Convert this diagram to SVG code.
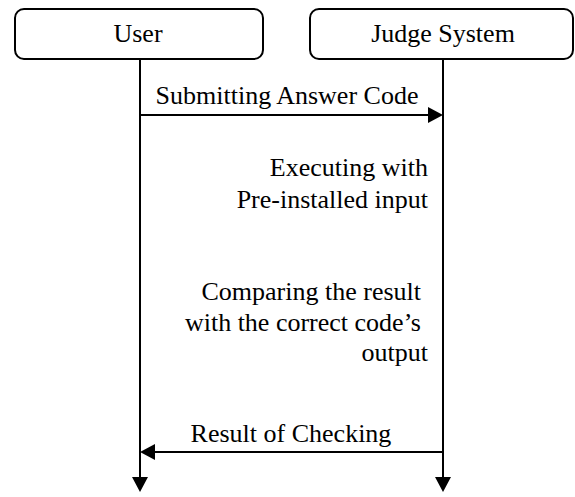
<svg xmlns="http://www.w3.org/2000/svg" width="575" height="497" viewBox="0 0 575 497">
<style>
.box{fill:#fff;stroke:#000;stroke-width:2}
.t{font-family:"Liberation Serif","Times New Roman",serif;font-size:26px;fill:#000}
.ln{stroke:#000;stroke-width:2;fill:none}
</style>
<defs>
<marker id="ah" viewBox="0 0 15 16" refX="10" refY="8" markerWidth="15" markerHeight="16" markerUnits="userSpaceOnUse" orient="auto">
<path d="M0,0 L15,8 L0,16 Z" fill="#000"/>
</marker>
</defs>
<rect width="575" height="497" fill="#fff"/>
<g id="user">
<rect class="box" x="15" y="9" width="248" height="50" rx="9"/>
<text class="t" x="138" y="42" text-anchor="middle">User</text>
</g>
<g id="judge">
<rect class="box" x="310" y="9" width="263" height="50" rx="9"/>
<text class="t" x="443" y="42" text-anchor="middle">Judge System</text>
</g>
<g id="connectors">
<line class="ln" x1="140" y1="59" x2="140" y2="487" marker-end="url(#ah)"/>
<line class="ln" x1="443" y1="59" x2="443" y2="487" marker-end="url(#ah)"/>
<line class="ln" x1="140" y1="115" x2="438" y2="115" marker-end="url(#ah)"/>
<line class="ln" x1="443" y1="452" x2="145" y2="452" marker-end="url(#ah)"/>
</g>
<g id="labels">
<text class="t" x="287" y="104" text-anchor="middle">Submitting Answer Code</text>
<text class="t" x="428" y="176" text-anchor="end">Executing with</text>
<text class="t" x="428" y="208" text-anchor="end">Pre-installed input</text>
<text class="t" x="421" y="300" text-anchor="end">Comparing the result</text>
<text class="t" x="421" y="331" text-anchor="end">with the correct code’s</text>
<text class="t" x="428" y="361" text-anchor="end">output</text>
<text class="t" x="291" y="442" text-anchor="middle">Result of Checking</text>
</g>
</svg>
